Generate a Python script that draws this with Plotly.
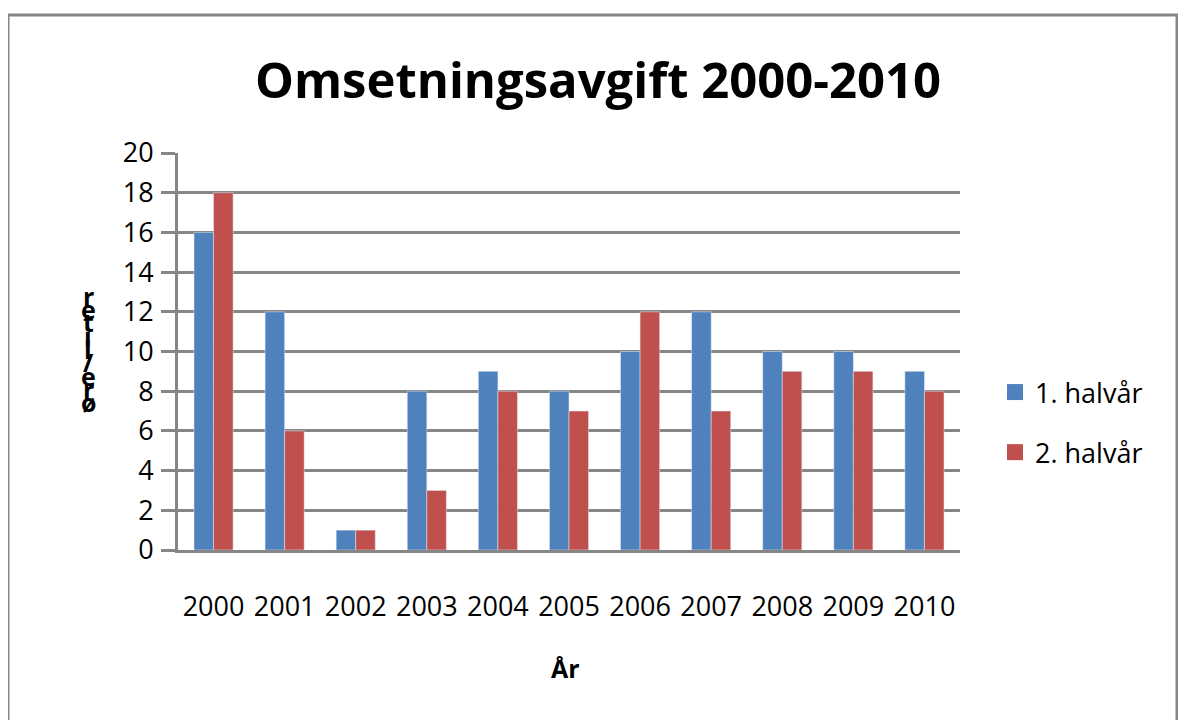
import plotly.graph_objects as go

years = ["2000", "2001", "2002", "2003", "2004", "2005", "2006", "2007", "2008", "2009", "2010"]
first_half = [16, 12, 1, 8, 9, 8, 10, 12, 10, 10, 9]
second_half = [18, 6, 1, 3, 8, 7, 12, 7, 9, 9, 8]
series_names = ["1. halvår", "2. halvår"]
colors = ["#4F81BD", "#C0504D"]
title_text = "Omsetningsavgift 2000-2010"
x_title = "År"
y_title = "øre/liter"

W, H = 1186, 720
OFF = 8  # page offset of the figure in the screenshot
L, R, T, B = 178 - OFF, 1186 - (960 - OFF), 153 - OFF, 720 - (550 - OFF)
pw, ph = W - L - R, H - T - B

def px(x):
    return (x - OFF - L) / pw

def py(y):
    return (H - B - (y - OFF)) / ph

FONT = "Open Sans, Liberation Sans, sans-serif"
GRAY = "#868686"

fig = go.Figure()
fig.add_trace(go.Bar(x=years, y=first_half, name=series_names[0], marker_color=colors[0], showlegend=False))
fig.add_trace(go.Bar(x=years, y=second_half, name=series_names[1], marker_color=colors[1], showlegend=False))
# legend entries with larger square swatches
for i, (nm, c) in enumerate(zip(series_names, colors)):
    fig.add_trace(go.Scatter(x=[None], y=[None], mode="markers", name=nm, legendgroup=nm,
                             marker=dict(symbol="square", size=17, color=c), showlegend=True))

annotations = [
    dict(text="<b>%s</b>" % title_text, x=px(598), y=py(79), xref="paper", yref="paper",
         showarrow=False, font=dict(size=49, color="black", family=FONT), xanchor="center", yanchor="middle"),
    dict(text="<b>%s</b>" % x_title, x=px(565), y=py(668), xref="paper", yref="paper",
         showarrow=False, font=dict(size=25, color="black", family=FONT), xanchor="center", yanchor="middle"),
]
# vertically stacked y-axis title letters (bottom to top)
ys = [402, 389, 376, 362, 349, 336, 322, 309, 296]
for ch, yy in zip(y_title, ys):
    annotations.append(dict(text="<b>%s</b>" % ch, x=px(88), y=py(yy), xref="paper", yref="paper",
                            showarrow=False, font=dict(size=25, color="black", family=FONT),
                            xanchor="center", yanchor="middle"))

fig.update_layout(
    width=W, height=H,
    margin=dict(l=L, r=R, t=T, b=B),
    paper_bgcolor="white", plot_bgcolor="white",
    barmode="group", bargap=0.45, bargroupgap=0,
    font=dict(family=FONT, color="black", size=27),
    annotations=annotations,
    showlegend=True,
    legend=dict(x=px(995), y=py(368), xanchor="left", yanchor="top",
                font=dict(size=27, family=FONT), tracegroupgap=22,
                bgcolor="rgba(0,0,0,0)", itemwidth=30),
    shapes=[dict(type="rect", xref="paper", yref="paper", x0=px(8), x1=px(1177), y0=py(760), y1=py(15),
                 line=dict(color=GRAY, width=3), fillcolor="rgba(0,0,0,0)", layer="below")],
)
fig.update_yaxes(range=[0, 20], dtick=2, showgrid=True, gridcolor=GRAY, gridwidth=3,
                 showline=True, linecolor=GRAY, linewidth=3, ticks="outside", ticklen=14,
                 tickcolor=GRAY, tickwidth=3, zeroline=False, tickfont=dict(size=27),
                 ticklabelstandoff=2)
fig.update_xaxes(showline=True, linecolor=GRAY, linewidth=3, ticks="", tickfont=dict(size=27),
                 ticklabelstandoff=31)

fig.write_html("out.html")
